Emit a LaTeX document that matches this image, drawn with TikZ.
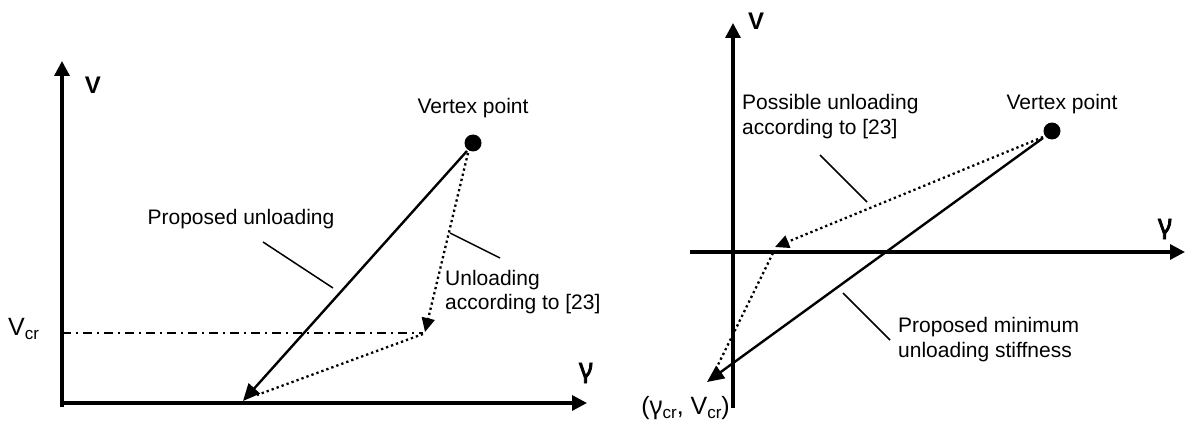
\documentclass[tikz,border=0pt]{standalone}
\usepackage{fontspec}
\setmainfont{Liberation Sans}
\newfontfamily\gfont{Noto Sans}
\newfontfamily\gboldfont{Noto Sans}[FakeBold=3]
\usetikzlibrary{arrows.meta}
\newcommand{\subcr}{\raisebox{-4pt}{\fontsize{17}{17}\selectfont cr}}
\begin{document}
\begin{tikzpicture}[x=1pt,y=-1pt,
  axis/.style={line width=3.3pt,-{Triangle[length=15pt,width=15pt]}},
  unload/.style={line width=2.4pt,-{Triangle[length=17pt,width=15pt]}},
  dotline/.style={line width=2.3pt,dash pattern=on 2.3pt off 3pt},
  dotarrow/.style={dotline,-{Triangle[length=14pt,width=13pt]}},
  leader/.style={line width=1.5pt},
  dashdot/.style={line width=1.6pt,dash pattern=on 9pt off 5pt on 2pt off 5pt},
  lbl/.style={font=\fontsize{21}{24}\selectfont,inner sep=0pt},
  axlbl/.style={font=\fontsize{24}{28}\selectfont\bfseries,inner sep=0pt},
  gamlbl/.style={font=\fontsize{27}{30}\gboldfont,inner sep=0pt},
  vcr/.style={font=\fontsize{25}{30}\selectfont,inner sep=0pt},
  vertex/.style={circle,fill,inner sep=0pt,minimum size=17pt}]
\useasboundingbox[fill=white] (0,0) rectangle (1192,425);

% ---------- left diagram ----------
\coordinate (l0) at (62,407);
\coordinate (ltop) at (62,61);
\coordinate (lx0) at (60,403);
\coordinate (lxend) at (587,403);
\coordinate (la1) at (243,401);
\coordinate (ld1) at (425,332);
\coordinate (ld2) at (423,334);
\coordinate (ld3) at (257,395);
\coordinate (ldd0) at (62,333);
\coordinate (ldd1) at (423,333);
\coordinate (lp0) at (263,242);
\coordinate (lp1) at (333,288);
\coordinate (lu0) at (450,233);
\coordinate (lu1) at (500,258);

\draw[axis] (l0) -- (ltop);
\draw[axis] (lx0) -- (lxend);
\draw[dashdot] (ldd0) -- (ldd1);
\node[vertex] (v1) at (473,143) {};
\draw[unload] (v1.center) ++(-6,8) -- (la1);
\draw[dotarrow] (v1.center) ++(-5,10) -- (ld1);
\draw[dotline] (ld2) -- (ld3);
\draw[leader] (lp0) -- (lp1);
\draw[leader] (lu0) -- (lu1);

\node[lbl,anchor=base] (vt1) at (473,114) {Vertex point};
\node[lbl,anchor=base] (pu1) at (241,225) {Proposed unloading};
\node[lbl,anchor=base west] (ua1) at (445,285) {Unloading};
\node[lbl,anchor=base west] (ua2) at (445,309) {according to [23]};
\node[vcr,anchor=base west] (vcr1) at (8,335) {V\subcr};
\node[axlbl] (vl1) at (93,85) {V};
\node[gamlbl] (gl1) at (586,373) {γ};

% ---------- right diagram ----------
\coordinate (r0) at (733,408);
\coordinate (rtop) at (733,23);
\coordinate (rx0) at (690,252);
\coordinate (rxend) at (1185,252);
\coordinate (ra1) at (707,382);
\coordinate (rd1) at (775,247);
\coordinate (rd2) at (773,253);
\coordinate (rd3) at (714,373);
\coordinate (rp0) at (820,155);
\coordinate (rp1) at (867,202);
\coordinate (rm0) at (843,293);
\coordinate (rm1) at (890,340);

\draw[axis] (r0) -- (rtop);
\draw[axis] (rx0) -- (rxend);
\node[vertex] (v2) at (1052,131) {};
\draw[unload] (v2.center) ++(-9,7) -- (ra1);
\draw[dotarrow] (v2.center) ++(-9,6) -- (rd1);
\draw[dotline] (rd2) -- (rd3);
\draw[leader] (rp0) -- (rp1);
\draw[leader] (rm0) -- (rm1);

\node[lbl,anchor=base] (vt2) at (1062,110) {Vertex point};
\node[lbl,anchor=base west] (pos1) at (742,110) {Possible unloading};
\node[lbl,anchor=base west] (pos2) at (742,135) {according to [23]};
\node[lbl,anchor=base west] (pm1) at (898,332) {Proposed minimum};
\node[lbl,anchor=base west] (pm2) at (898,357) {unloading stiffness};
\node[vcr,anchor=base east] (gvcr) at (730,414) {({\gfont γ}\subcr, V\subcr)};
\node[axlbl] (vl2) at (756,21) {V};
\node[gamlbl] (gl2) at (1165,229) {γ};
\end{tikzpicture}
\end{document}
